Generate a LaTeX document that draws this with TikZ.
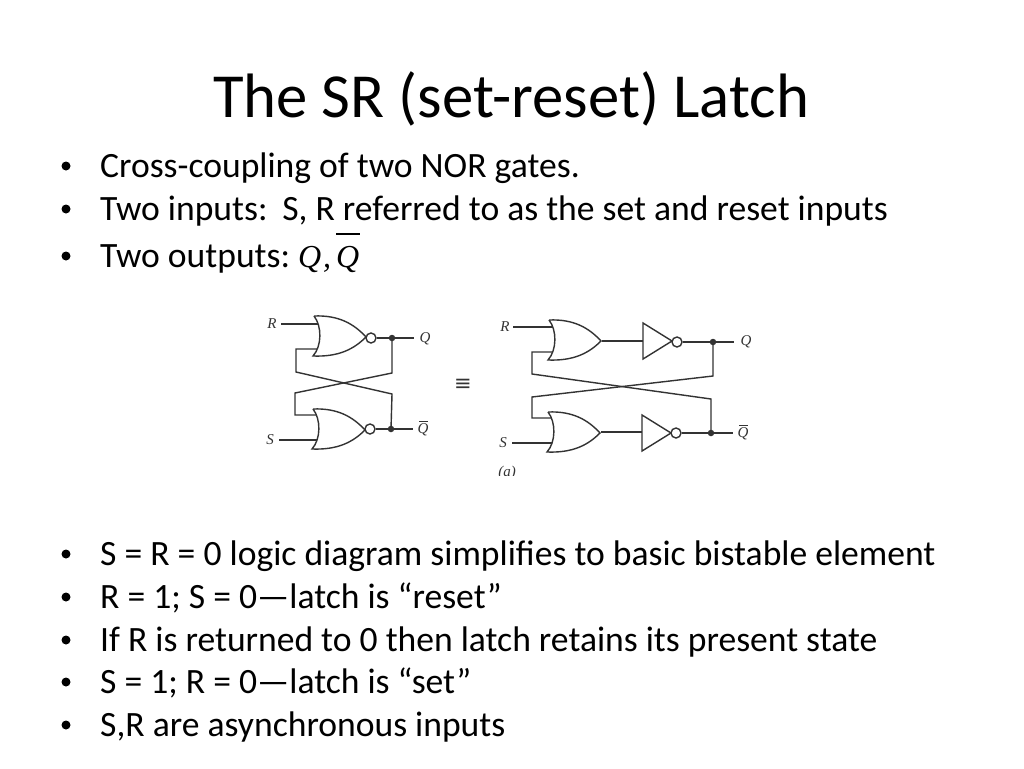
\documentclass[tikz,border=0pt]{standalone}
\usepackage{fontspec}
\setmainfont{Carlito}
\newfontfamily\mathlike{Liberation Serif}
\newfontfamily\symfont{DejaVu Sans}
\usetikzlibrary{calc}
\definecolor{ink}{gray}{0.2}
\tikzset{
  titletext/.style={anchor=base,inner sep=0pt,font=\fontsize{62.7}{66}\selectfont},
  bodytext/.style={anchor=base west,inner sep=0pt,font=\fontsize{35.6}{40}\selectfont},
  mathtext/.style={anchor=base west,inner sep=0pt,font=\mathlike\itshape\fontsize{32}{36}\selectfont},
  bulletmark/.style={circle,fill=black,inner sep=0pt,minimum size=9pt},
  wire/.style={draw=ink,line width=1.4pt,line join=miter},
  bubble/.style={circle,draw=ink,line width=1.4pt,fill=white,inner sep=0pt,minimum size=10pt},
  joint/.style={circle,fill=ink,inner sep=0pt,minimum size=6.5pt},
  sig/.style={anchor=center,inner sep=0pt,text=ink,font=\mathlike\itshape\fontsize{15}{17}\selectfont},
  pics/orgate/.style={code={
    \draw[wire,fill=white] (0,0) .. controls (25,-1) and (40,8) .. (52,21)
      .. controls (40,33) and (25,41) .. (-1,40)
      .. controls (8,30) and (8,10) .. (0,0);
  }},
  pics/invgate/.style={code={
    \draw[wire,fill=white] (0,0) -- (29,18) -- (0,36) -- cycle;
  }}
}
\begin{document}
\begin{tikzpicture}[x=1pt,y=-1pt]
\useasboundingbox (0,0) rectangle (1024,768);
\fill[white] (0,0) rectangle (1024,768);
% title
\node[titletext] (title) at (511,117) {The SR (set-reset) Latch};
% bullets
\foreach \n/\y in {a/177,b/220,c/267,d/565,e/608,f/651,g/693,h/736}
  \node[bulletmark] (bul\n) at (66,\y-11) {};
\node[bodytext] (t1) at (100,177) {Cross-coupling of two NOR gates.};
\node[bodytext] (t2) at (100,220) {Two inputs:\hspace{4pt}  S, R referred to as the set and reset inputs};
\node[bodytext] (t3) at (100,267) {Two outputs: };
\node[mathtext] (q1) at (298,267) {Q};
\node[mathtext] (qc) at (323,267) {,};
\node[mathtext] (q2) at (336,267) {Q};
\draw[black,line width=2pt] (336,233.5) -- (360,233.5);
\node[bodytext] (t4) at (100,565) {S = R = 0 logic diagram simplifies to basic bistable element};
\node[bodytext] (t5) at (100,608) {R = 1; S = 0—latch is “reset”};
\node[bodytext] (t6) at (100,651) {If R is returned to 0 then latch retains its present state};
\node[bodytext] (t7) at (100,693) {S = 1; R = 0—latch is “set”};
\node[bodytext] (t8) at (100,736) {S,R are asynchronous inputs};

% --- left latch ---
\node[sig] (lR) at (272,324) {R};
\node[sig] (lS) at (270,440) {S};
\node[sig] (lQ) at (425,339) {Q};
\node[sig] (lQb) at (423,430) {Q};
\draw[ink,line width=0.9pt] (419,421.5) -- (428,421.5);
\coordinate (lRs) at (281,324); \coordinate (lRe) at (319,324);
\coordinate (lSs) at (279,440); \coordinate (lSe) at (318,440);
\coordinate (lQe) at (414,338); \coordinate (lQbe) at (413,429);
\coordinate (lin1) at (318,349); \coordinate (lin2) at (317,415);
\node[joint] (ld1) at (392,338) {};
\node[joint] (ld2) at (391,429) {};
\draw[wire] (lRs) -- (lRe);
\draw[wire] (lSs) -- (lSe);
\draw[wire] (lin1) -- (296,349) -- (296,372) -- (392,394) -- (ld2.center);
\draw[wire] (ld1.center) -- (392,373) -- (295,393) -- (295,415) -- (lin2);
\pic at (314,316) {orgate};
\pic at (313,409) {orgate};
\node[bubble] (lb1) at (371,338) {};
\node[bubble] (lb2) at (370,429) {};
\draw[wire] (lb1) -- (ld1.center);
\draw[wire] (ld1.center) -- (lQe);
\draw[wire] (lb2) -- (ld2.center);
\draw[wire] (ld2.center) -- (lQbe);

% equivalence sign
\node[inner sep=0pt,anchor=center,text=ink,font=\symfont\fontsize{21}{22}\selectfont] (eq) at (463,385) {≡};

% --- right latch ---
\node[sig] (rR) at (505,327) {R};
\node[sig] (rS) at (503,443) {S};
\node[sig] (rQ) at (746,342) {Q};
\node[sig] (rQb) at (743,434) {Q};
\draw[ink,line width=0.9pt] (739,425.5) -- (748,425.5);
\coordinate (rRs) at (513,327); \coordinate (rRe) at (554,327);
\coordinate (rSs) at (512,443); \coordinate (rSe) at (553,443);
\coordinate (rin1) at (553,352); \coordinate (rin2) at (553,418);
\coordinate (rQe) at (734,342); \coordinate (rQbe) at (733,433);
\coordinate (ror1) at (602,341); \coordinate (ror2) at (601,432);
\coordinate (rinv1) at (643,341); \coordinate (rinv2) at (642,432);
\node[joint] (rd1) at (713,342) {};
\node[joint] (rd2) at (711,433) {};
\draw[wire] (rRs) -- (rRe);
\draw[wire] (rSs) -- (rSe);
\draw[wire] (rin1) -- (532,352) -- (532,374) -- (711,399) -- (rd2.center);
\draw[wire] (rd1.center) -- (713,376) -- (532,397) -- (532,418) -- (rin2);
\pic at (549,320) {orgate};
\pic at (548,412) {orgate};
\draw[wire] (ror1) -- (rinv1);
\draw[wire] (ror2) -- (rinv2);
\pic at (643,323) {invgate};
\pic at (642,415) {invgate};
\node[bubble] (rb1) at (677,342) {};
\node[bubble] (rb2) at (676,433) {};
\draw[wire] (rb1) -- (rd1.center);
\draw[wire] (rd1.center) -- (rQe);
\draw[wire] (rb2) -- (rd2.center);
\draw[wire] (rd2.center) -- (rQbe);
% clipped caption
\begin{scope}
\clip (490,460) rectangle (530,475.5);
\node[sig] (cap) at (507,473) {(a)};
\end{scope}
\end{tikzpicture}
\end{document}
